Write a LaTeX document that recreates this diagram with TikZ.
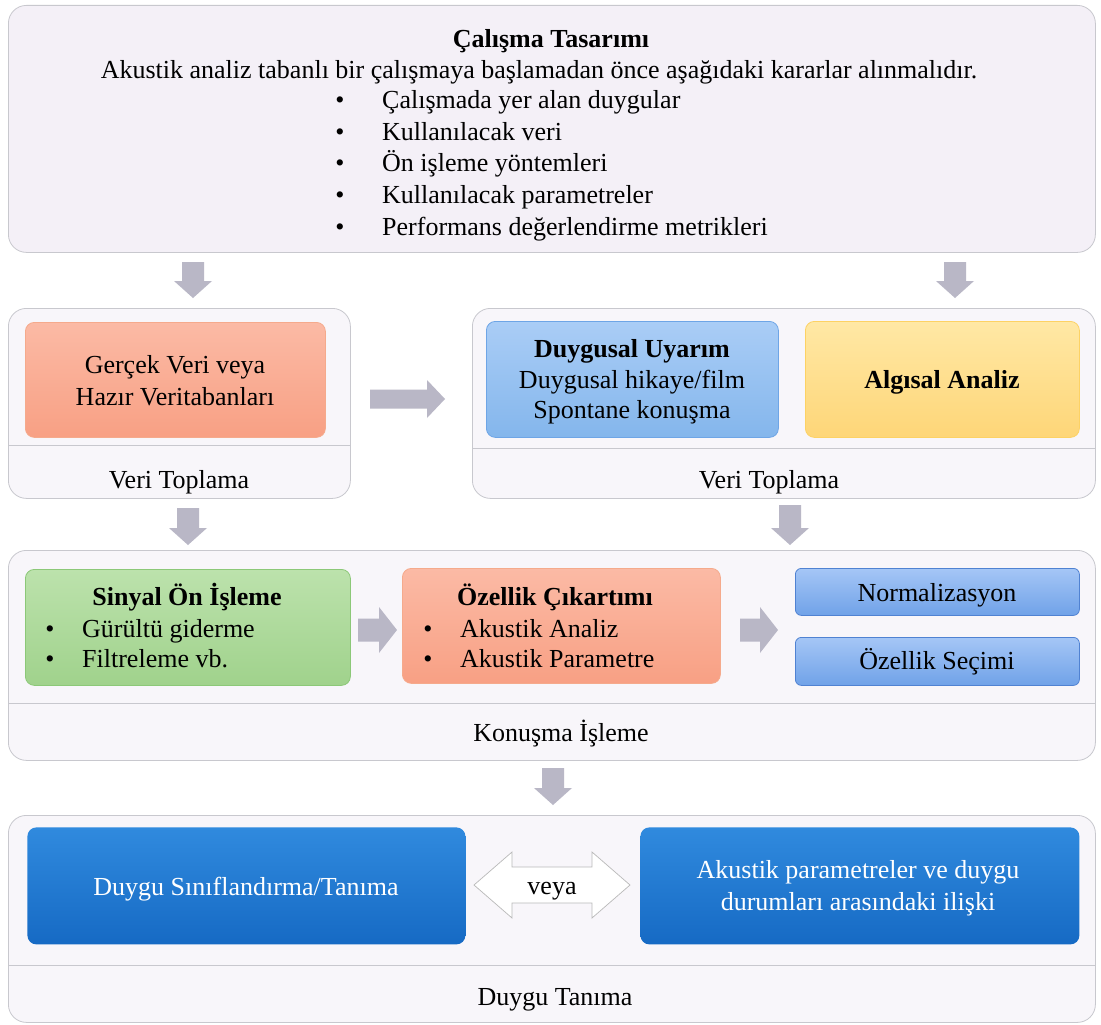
\documentclass[tikz,border=0pt]{standalone}
\usepackage{fontspec}
\setmainfont{Liberation Serif}
\definecolor{toppanel}{RGB}{244,240,247}
\definecolor{panel}{RGB}{248,246,250}
\definecolor{panelline}{RGB}{200,200,206}
\definecolor{arrgray}{RGB}{185,183,198}
\definecolor{salmonT}{RGB}{251,186,165}
\definecolor{salmonB}{RGB}{248,160,132}
\definecolor{salmonD}{RGB}{245,170,140}
\definecolor{lblueT}{RGB}{170,205,246}
\definecolor{lblueB}{RGB}{132,182,236}
\definecolor{lblueD}{RGB}{110,165,230}
\definecolor{yelT}{RGB}{255,232,165}
\definecolor{yelB}{RGB}{254,214,120}
\definecolor{yelD}{RGB}{253,210,100}
\definecolor{grnT}{RGB}{188,226,172}
\definecolor{grnB}{RGB}{160,210,140}
\definecolor{grnD}{RGB}{140,200,120}
\definecolor{nblueT}{RGB}{165,198,246}
\definecolor{nblueB}{RGB}{112,162,232}
\definecolor{nblueD}{RGB}{80,130,210}
\definecolor{dblueT}{RGB}{48,138,222}
\definecolor{dblueB}{RGB}{22,106,196}
\newcommand{\ArrDownBlk}[3]{%
  \fill[arrgray] ({#1-11},#2) -- ({#1+11},#2) -- ({#1+11},{#3-17}) -- ({#1+19},{#3-17}) -- (#1,#3) -- ({#1-19},{#3-17}) -- ({#1-11},{#3-17}) -- cycle;}
% #1 centre y, #2 start x, #3 tip x, #4 shaft half width, #5 head half width
\newcommand{\ArrRightBlk}[5]{%
  \fill[arrgray] (#2,{#1-#4}) -- (#2,{#1+#4}) -- ({#3-18},{#1+#4}) -- ({#3-18},{#1+#5}) -- (#3,#1) -- ({#3-18},{#1-#5}) -- ({#3-18},{#1-#4}) -- cycle;}
\begin{document}
\begin{tikzpicture}[x=1pt,y=-1pt,
  container/.style={draw=panelline, line width=0.8pt, fill=panel, rounded corners=18pt, anchor=north west, inner sep=0pt},
  inbox/.style={rounded corners=9pt, anchor=north west, inner sep=0pt, line width=0.8pt},
  divider/.style={draw=panelline, line width=0.8pt},
  txt/.style={font=\fontsize{26}{30}\selectfont, inner sep=0pt},
  btxt/.style={font=\fontsize{26}{30}\selectfont\bfseries, inner sep=0pt},
]
\useasboundingbox (0,0) rectangle (1101,1025);
\fill[white] (0,0) rectangle (1101,1025);

% ---------- top box
\node[container, fill=toppanel, minimum width=1087pt, minimum height=247pt] (c1) at (8,5) {};
\node[btxt, anchor=base] (t1) at (551,48) {Çalışma Tasarımı};
\node[txt, anchor=base] (t2) at (539,79) {Akustik analiz tabanlı bir çalışmaya başlamadan önce aşağıdaki kararlar alınmalıdır.};
\foreach \yy/\tt [count=\i] in {109/Çalışmada yer alan duygular,140/Kullanılacak veri,171/Ön işleme yöntemleri,203/Kullanılacak parametreler,235/Performans değerlendirme metrikleri}{
  \node[txt, anchor=base] (tb\i) at (340,\yy) {•};
  \node[txt, anchor=base west] (tl\i) at (382,\yy) {\tt};
}

\ArrDownBlk{193}{262}{298}
\ArrDownBlk{955}{262}{298}

% ---------- second row, left
\node[container, minimum width=342pt, minimum height=190pt] (c2) at (8,308) {};
\draw[divider] (8,445) -- (350,445);
\node[inbox, draw=salmonD, top color=salmonT, bottom color=salmonB, minimum width=300pt, minimum height=115pt] (g1) at (25,322) {};
\node[txt, anchor=base] (g1a) at (175,373) {Gerçek Veri veya};
\node[txt, anchor=base] (g1b) at (175,405) {Hazır Veritabanları};
\node[txt, anchor=base] (vt1) at (179,488) {Veri Toplama};

\ArrRightBlk{399}{370}{445}{9.5}{19}

% ---------- second row, right
\node[container, minimum width=623pt, minimum height=190pt] (c3) at (472,308) {};
\draw[divider] (472,448) -- (1095,448);
\node[inbox, draw=lblueD, top color=lblueT, bottom color=lblueB, minimum width=292pt, minimum height=116pt] (du) at (486,321) {};
\node[btxt, anchor=base] (du1) at (632,357) {Duygusal Uyarım};
\node[txt, anchor=base] (du2) at (632,388) {Duygusal hikaye/film};
\node[txt, anchor=base] (du3) at (632,418) {Spontane konuşma};
\node[inbox, draw=yelD, top color=yelT, bottom color=yelB, minimum width=274pt, minimum height=116pt] (aa) at (805,321) {};
\node[btxt, anchor=base] (aa1) at (942,388) {Algısal Analiz};
\node[txt, anchor=base] (vt2) at (769,488) {Veri Toplama};

\ArrDownBlk{188}{508}{545}
\ArrDownBlk{790}{505}{545}

% ---------- third row
\node[container, minimum width=1087pt, minimum height=210pt] (c4) at (8,550) {};
\draw[divider] (8,703) -- (1095,703);
\node[inbox, draw=grnD, top color=grnT, bottom color=grnB, minimum width=325pt, minimum height=116pt] (sp) at (25,569) {};
\node[btxt, anchor=base] (sp1) at (187,605) {Sinyal Ön İşleme};
\node[txt, anchor=base] (sp2b) at (50,637) {•};
\node[txt, anchor=base west] (sp2) at (82,637) {Gürültü giderme};
\node[txt, anchor=base] (sp3b) at (50,667) {•};
\node[txt, anchor=base west] (sp3) at (82,667) {Filtreleme vb.};

\ArrRightBlk{630}{358}{397}{11.5}{23}

\node[inbox, draw=salmonD, top color=salmonT, bottom color=salmonB, minimum width=318pt, minimum height=115pt] (oc) at (402,568) {};
\node[btxt, anchor=base] (oc1) at (555,605) {Özellik Çıkartımı};
\node[txt, anchor=base] (oc2b) at (428,637) {•};
\node[txt, anchor=base west] (oc2) at (460,637) {Akustik Analiz};
\node[txt, anchor=base] (oc3b) at (428,667) {•};
\node[txt, anchor=base west] (oc3) at (460,667) {Akustik Parametre};

\ArrRightBlk{630}{740}{778}{11.5}{23}

\node[inbox, rounded corners=6pt, draw=nblueD, top color=nblueT, bottom color=nblueB, minimum width=284pt, minimum height=47pt] (nz) at (795,568) {};
\node[txt, anchor=base] (nz1) at (937,601) {Normalizasyon};
\node[inbox, rounded corners=6pt, draw=nblueD, top color=nblueT, bottom color=nblueB, minimum width=284pt, minimum height=48pt] (os) at (795,637) {};
\node[txt, anchor=base] (os1) at (937,669) {Özellik Seçimi};
\node[txt, anchor=base] (ki) at (561,741) {Konuşma İşleme};

\ArrDownBlk{553}{768}{805}

% ---------- bottom row
\node[container, minimum width=1087pt, minimum height=207pt] (c5) at (8,815) {};
\draw[divider] (8,965) -- (1095,965);
\node[inbox, top color=dblueT, bottom color=dblueB, minimum width=438pt, minimum height=117pt] (ds) at (27,827) {};
\node[txt, text=white, anchor=base] (ds1) at (246,895) {Duygu Sınıflandırma/Tanıma};
\draw[draw=gray!55, fill=white, line width=0.7pt] (474,885) -- (512,852) -- (512,867) -- (592,867) -- (592,852) -- (630,885) -- (592,918) -- (592,903) -- (512,903) -- (512,918) -- cycle;
\node[txt, anchor=base] (veya) at (552,894) {veya};
\node[inbox, top color=dblueT, bottom color=dblueB, minimum width=439pt, minimum height=117pt] (ak) at (640,827) {};
\node[txt, text=white, anchor=base] (ak1) at (858,878) {Akustik parametreler ve duygu};
\node[txt, text=white, anchor=base] (ak2) at (858,910) {durumları arasındaki ilişki};
\node[txt, anchor=base] (dt) at (555,1005) {Duygu Tanıma};
\end{tikzpicture}
\end{document}
